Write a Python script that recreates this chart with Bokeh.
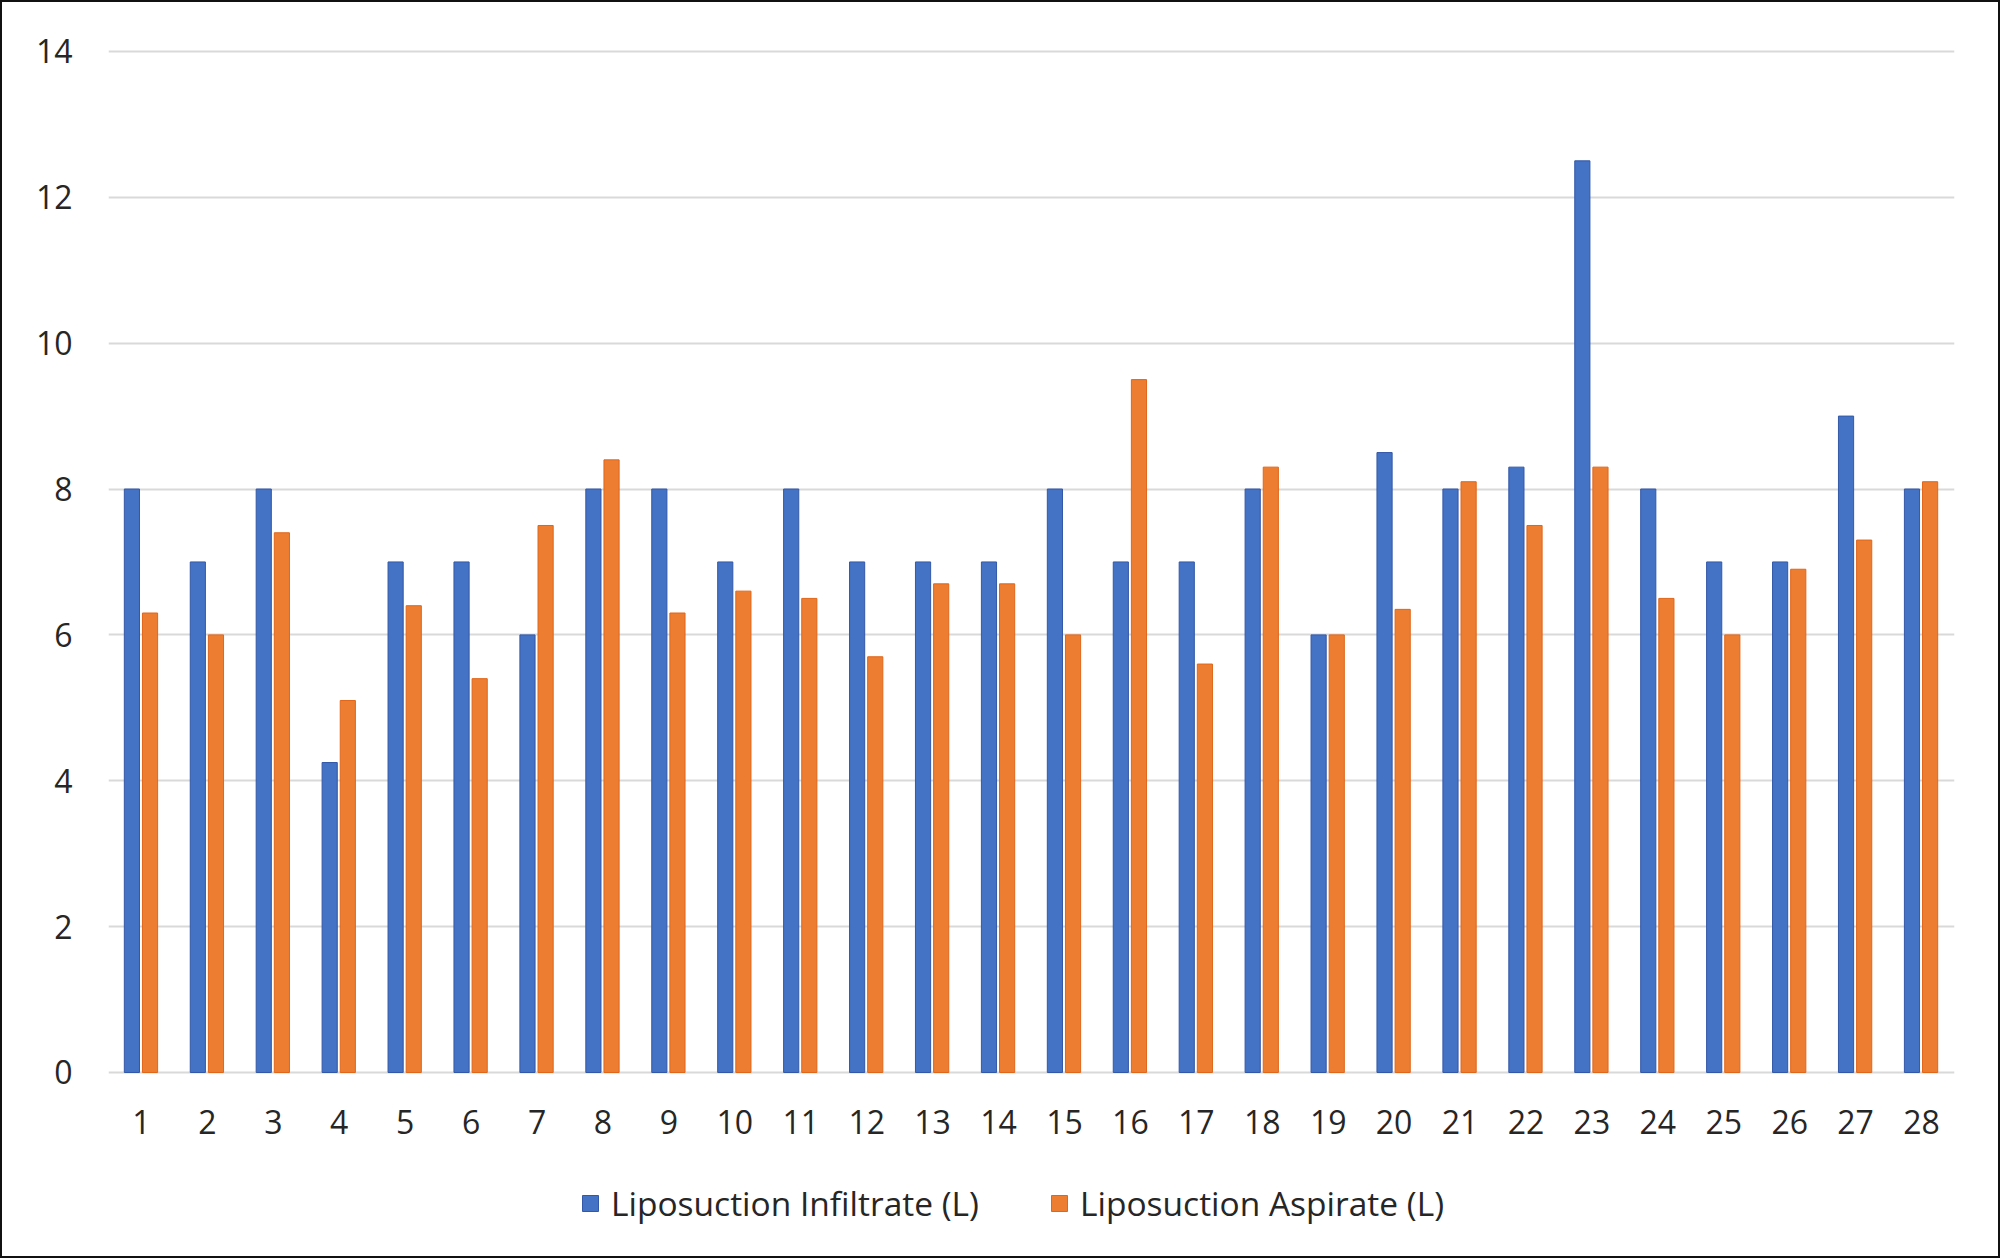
from bokeh.plotting import figure
from bokeh.models import FactorRange, Legend, LegendItem, ColumnDataSource, FixedTicker, Range1d
from bokeh.transform import dodge
from bokeh.core.properties import value
from bokeh.embed import file_html
from bokeh.resources import INLINE

patients = [str(i) for i in range(1, 29)]
infiltrate = [8, 7, 8, 4.25, 7, 7, 6, 8, 8, 7, 8, 7, 7, 7, 8, 7, 7, 8, 6, 8.5, 8, 8.3, 12.5, 8, 7, 7, 9, 8]
aspirate = [6.3, 6.0, 7.4, 5.1, 6.4, 5.4, 7.5, 8.4, 6.3, 6.6, 6.5, 5.7, 6.7, 6.7, 6.0, 9.5, 5.6, 8.3, 6.0, 6.35, 8.1, 7.5, 8.3, 6.5, 6.0, 6.9, 7.3, 8.1]
y_ticks = [0, 2, 4, 6, 8, 10, 12, 14]
series_names = ["Liposuction Infiltrate (L)", "Liposuction Aspirate (L)"]

BLUE, BLUE_EDGE = "#4472C4", "#3358A8"
ORANGE, ORANGE_EDGE = "#ED7D31", "#E0661A"
FONT = "Open Sans"
TXT = "#262626"

src = ColumnDataSource(dict(patient=patients, infiltrate=infiltrate, aspirate=aspirate,
                            base=[0] * len(patients)))

# frame extends below the zero line so the category labels and legend sit inside it
p = figure(
    x_range=FactorRange(*patients), y_range=Range1d(-2.523, 14.04),
    frame_width=1846, frame_height=1208,
    min_border_left=106, min_border_right=44, min_border_top=46, min_border_bottom=0,
    x_axis_location=None,
    output_backend="svg", toolbar_location=None,
)
p.styles = {"border": "2px solid #111111"}

r1 = p.vbar(x=dodge("patient", -0.145, range=p.x_range), top="infiltrate", width=0.23, source=src,
            fill_color=BLUE, line_color=BLUE_EDGE, line_width=1)
r2 = p.vbar(x=dodge("patient", 0.13, range=p.x_range), top="aspirate", width=0.23, source=src,
            fill_color=ORANGE, line_color=ORANGE_EDGE, line_width=1)

# category labels
p.text(x="patient", y="base", text="patient", source=src, y_offset=50,
       text_align="center", text_baseline="middle",
       text_font=value(FONT), text_font_size=value("32px"), text_color=TXT)

p.outline_line_color = None
p.background_fill_color = "white"
p.border_fill_color = "white"

p.xgrid.grid_line_color = None
p.ygrid.grid_line_color = "#D9D9D9"
p.ygrid.grid_line_width = 2
p.ygrid.ticker = FixedTicker(ticks=y_ticks)

ya = p.yaxis[0]
ya.ticker = FixedTicker(ticks=y_ticks)
ya.axis_line_color = None
ya.major_tick_line_color = None
ya.minor_tick_line_color = None
ya.major_tick_out = 0
ya.major_tick_in = 0
ya.major_label_text_font = FONT
ya.major_label_text_font_size = "32px"
ya.major_label_text_color = TXT
ya.major_label_standoff = 36

legend = Legend(
    items=[LegendItem(label=series_names[0], renderers=[r1]),
           LegendItem(label=series_names[1], renderers=[r2])],
    orientation="horizontal", location=(472, 30),
    padding=0, margin=0, spacing=70, label_standoff=11,
    glyph_width=20, glyph_height=20,
    label_text_font=FONT, label_text_font_size="33.5px", label_text_color=TXT,
    border_line_color=None, background_fill_alpha=0,
)
p.add_layout(legend, "center")

open("out.html", "w").write(file_html(p, INLINE))
